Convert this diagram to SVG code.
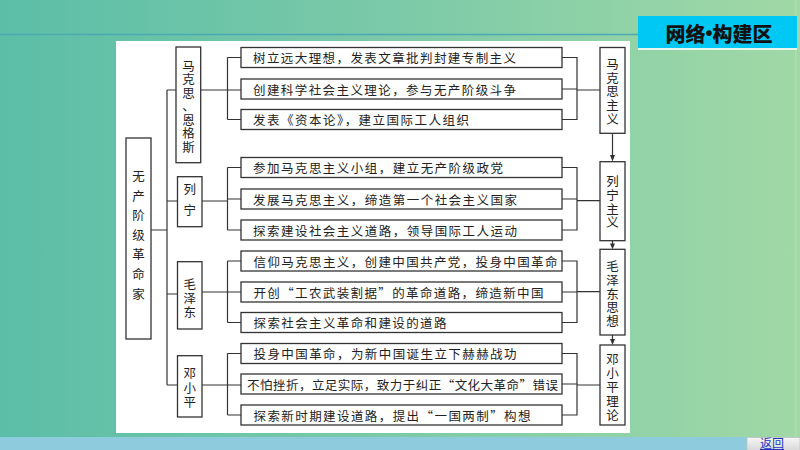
<svg xmlns="http://www.w3.org/2000/svg" width="800" height="450" viewBox="0 0 800 450">
<style>
.box{fill:#fff;stroke:#333;stroke-width:1.3}
.ln{fill:none;stroke:#333;stroke-width:1.2}
.t{font-family:"Noto Sans CJK SC","Noto Sans",sans-serif;font-size:12.5px;fill:#222;dominant-baseline:central}
.v{font-family:"Noto Sans CJK SC","Noto Sans",sans-serif;font-size:12.5px;fill:#222;dominant-baseline:central;text-anchor:middle}
</style>
<defs>
<linearGradient id="bg" x1="0" y1="0" x2="1" y2="0">
<stop offset="0" stop-color="#5bbea7"/>
<stop offset="0.5" stop-color="#7ccaa8"/>
<stop offset="1" stop-color="#a1d8a6"/>
</linearGradient>
<linearGradient id="btn" x1="0" y1="0" x2="0" y2="1">
<stop offset="0" stop-color="#f6f6f6"/>
<stop offset="1" stop-color="#d9d9d9"/>
</linearGradient>
</defs>

<g id="background">
<rect x="0" y="0" width="800" height="450" fill="url(#bg)"/>
<line x1="0" y1="34.5" x2="640" y2="34.5" stroke="#4ba9b3" stroke-width="1.5"/>
<rect x="0" y="437" width="800" height="13" fill="#8ecbdc"/>
<rect x="795" y="0" width="1.5" height="437" fill="#b4e0b6" opacity="0.8"/>
<rect x="116" y="41" width="514" height="392" fill="#fff"/>
</g>

<g id="title">
<rect x="638" y="47.5" width="159" height="2.5" fill="#e8f6ee"/>
<rect x="638" y="16" width="159" height="32" fill="#00c8f4"/>
<text x="719" y="33" font-family="'Noto Sans CJK SC',sans-serif" font-size="20" font-weight="900" fill="#111" text-anchor="middle" dominant-baseline="central">网络<tspan font-family="'Liberation Sans',sans-serif" font-weight="bold">•</tspan>构建区</text>
</g>

<g id="connectors">
<path class="ln" d="M151,230 H167 M167,90 V385 M167,90 H176 M167,201 H177.5 M167,294 H177.5 M167,385 H177.5"/>
<path class="ln" d="M200.7,90 H241 M227.5,57.5 V119.5 M227.5,57.5 H241 M227.5,119.5 H241"/>
<path class="ln" d="M202,201 H227.5 M227.5,167.5 V230 M227.5,167.5 H241 M227.5,199 H241 M227.5,230 H241"/>
<path class="ln" d="M202,292 H241 M227.5,261 V322.5 M227.5,261 H241 M227.5,322.5 H241"/>
<path class="ln" d="M202,385 H241 M227.5,353.5 V415 M227.5,353.5 H241 M227.5,415 H241"/>
<path class="ln" d="M562,57.5 H577 V119.5 H562 M562,89 H577 M577,90 H600"/>
<path class="ln" d="M562,167.5 H577 V230 H562 M562,199 H577 M577,200.7 H600"/>
<path class="ln" d="M562,261 H577 V322.5 H562 M562,292 H577 M577,291.7 H600"/>
<path class="ln" d="M562,353.5 H577 V415 H562 M562,384 H577 M577,385 H600"/>
<path d="M612.5,133.3 V156" class="ln"/><path d="M610,155 L615,155 L612.5,161.5 z" fill="#333"/>
<path d="M612.5,240.7 V244" class="ln"/><path d="M610,243.5 L615,243.5 L612.5,249.3 z" fill="#333"/>
<path d="M612.5,335 V339.5" class="ln"/><path d="M610,339 L615,339 L612.5,345 z" fill="#333"/>
</g>

<g id="root">
<rect class="box" x="126" y="138" width="25" height="201"/>
<text class="v" font-size="13"><tspan x="138.5" y="175">无</tspan><tspan x="138.5" y="194.5">产</tspan><tspan x="138.5" y="214">阶</tspan><tspan x="138.5" y="233.5">级</tspan><tspan x="138.5" y="253">革</tspan><tspan x="138.5" y="272.5">命</tspan><tspan x="138.5" y="292.5">家</tspan></text>
</g>

<g id="marx-engels">
<rect class="box" x="176" y="47" width="24.7" height="115.7"/>
<text class="v"><tspan x="188.4" y="64.5">马</tspan><tspan x="188.4" y="78">克</tspan><tspan x="188.4" y="91.5">思</tspan><tspan x="188.4" y="105">、</tspan><tspan x="188.4" y="118.5">恩</tspan><tspan x="188.4" y="132">格</tspan><tspan x="188.4" y="145.5">斯</tspan></text>
</g>
<g id="lenin">
<rect class="box" x="177.5" y="176.7" width="24.5" height="50"/>
<text class="v" font-size="13"><tspan x="189.8" y="187.5">列</tspan><tspan x="189.8" y="209">宁</tspan></text>
</g>
<g id="mao">
<rect class="box" x="177.5" y="261.7" width="24.5" height="67.3"/>
<text class="v"><tspan x="189.8" y="283">毛</tspan><tspan x="189.8" y="296.8">泽</tspan><tspan x="189.8" y="310.6">东</tspan></text>
</g>
<g id="deng">
<rect class="box" x="177.5" y="355.7" width="24.5" height="61.3"/>
<text class="v"><tspan x="189.8" y="372">邓</tspan><tspan x="189.8" y="386.5">小</tspan><tspan x="189.8" y="401">平</tspan></text>
</g>

<g id="item1"><rect class="box" x="241" y="47.5" width="321" height="20"/><text class="t" x="253" y="57.5" textLength="263" lengthAdjust="spacing">树立远大理想，发表文章批判封建专制主义</text></g>
<g id="item2"><rect class="box" x="241" y="79" width="321" height="20"/><text class="t" x="253" y="89" textLength="263" lengthAdjust="spacing">创建科学社会主义理论，参与无产阶级斗争</text></g>
<g id="item3"><rect class="box" x="241" y="109.5" width="321" height="20"/><text class="t" x="253" y="119.5" textLength="216" lengthAdjust="spacing">发表《资本论》，建立国际工人组织</text></g>
<g id="item4"><rect class="box" x="241" y="157.5" width="321" height="20"/><text class="t" x="253" y="167.5" textLength="250" lengthAdjust="spacing">参加马克思主义小组，建立无产阶级政党</text></g>
<g id="item5"><rect class="box" x="241" y="189" width="321" height="20"/><text class="t" x="253" y="199" textLength="264" lengthAdjust="spacing">发展马克思主义，缔造第一个社会主义国家</text></g>
<g id="item6"><rect class="box" x="241" y="220" width="321" height="20"/><text class="t" x="253" y="230" textLength="264" lengthAdjust="spacing">探索建设社会主义道路，领导国际工人运动</text></g>
<g id="item7"><rect class="box" x="241" y="251" width="321" height="20"/><text class="t" x="253.5" y="261" textLength="304" lengthAdjust="spacing">信仰马克思主义，创建中国共产党，投身中国革命</text></g>
<g id="item8"><rect class="box" x="241" y="282" width="321" height="20"/><text class="t" x="253.5" y="292" textLength="290" lengthAdjust="spacing">开创“工农武装割据”的革命道路，缔造新中国</text></g>
<g id="item9"><rect class="box" x="241" y="312.5" width="321" height="20"/><text class="t" x="253.5" y="322.5" textLength="193" lengthAdjust="spacing">探索社会主义革命和建设的道路</text></g>
<g id="item10"><rect class="box" x="241" y="343.5" width="321" height="20"/><text class="t" x="253.5" y="353.5" textLength="263" lengthAdjust="spacing">投身中国革命，为新中国诞生立下赫赫战功</text></g>
<g id="item11"><rect class="box" x="241" y="374" width="321" height="20"/><text class="t" x="247" y="384" textLength="311" lengthAdjust="spacing">不怕挫折，立足实际，致力于纠正“文化大革命”错误</text></g>
<g id="item12"><rect class="box" x="241" y="405" width="321" height="20"/><text class="t" x="253.5" y="415" textLength="277" lengthAdjust="spacing">探索新时期建设道路，提出“一国两制”构想</text></g>

<g id="marxism">
<rect class="box" x="600" y="47.5" width="25" height="85.8"/>
<text class="v"><tspan x="612.5" y="63">马</tspan><tspan x="612.5" y="76.7">克</tspan><tspan x="612.5" y="90.3">思</tspan><tspan x="612.5" y="104">主</tspan><tspan x="612.5" y="117.6">义</tspan></text>
</g>
<g id="leninism">
<rect class="box" x="600" y="161.7" width="25" height="79"/>
<text class="v"><tspan x="612.5" y="180">列</tspan><tspan x="612.5" y="193.8">宁</tspan><tspan x="612.5" y="207.6">主</tspan><tspan x="612.5" y="221.4">义</tspan></text>
</g>
<g id="mao-thought">
<rect class="box" x="600" y="249.3" width="25" height="85.7"/>
<text class="v"><tspan x="612.5" y="265">毛</tspan><tspan x="612.5" y="278.8">泽</tspan><tspan x="612.5" y="292.5">东</tspan><tspan x="612.5" y="306.3">思</tspan><tspan x="612.5" y="320">想</tspan></text>
</g>
<g id="deng-theory">
<rect class="box" x="600" y="345" width="25" height="80"/>
<text class="v"><tspan x="612.5" y="357.5">邓</tspan><tspan x="612.5" y="371.5">小</tspan><tspan x="612.5" y="385.5">平</tspan><tspan x="612.5" y="399.5">理</tspan><tspan x="612.5" y="413.5">论</tspan></text>
</g>

<g id="back-button">
<rect x="747" y="437.5" width="53" height="13" fill="url(#btn)" stroke="#c4c4c4" stroke-width="0.8"/>
<text x="772" y="448" font-family="'Noto Sans CJK SC',sans-serif" font-size="12" fill="#1f35c0" text-anchor="middle" text-decoration="underline">返回</text>
</g>
</svg>
